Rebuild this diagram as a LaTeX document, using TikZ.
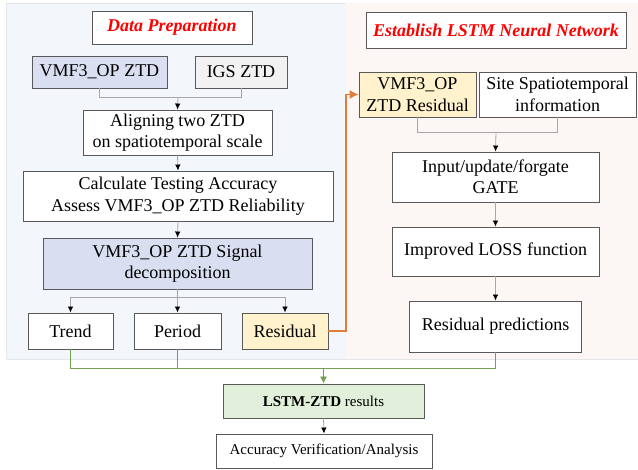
\documentclass[tikz,border=0pt]{standalone}
\usepackage{fontspec}
\setmainfont{Liberation Serif}
\usetikzlibrary{arrows.meta}
\definecolor{boxline}{HTML}{595959}
\definecolor{conn}{HTML}{A6A6A6}
\definecolor{leftbg}{HTML}{F3F6FA}
\definecolor{rightbg}{HTML}{FCF7F4}
\definecolor{panelline}{HTML}{E4E6EA}
\definecolor{vmffill}{HTML}{D9DFF1}
\definecolor{igsfill}{HTML}{F2F2F2}
\definecolor{resfill}{HTML}{FFF2CC}
\definecolor{lstmfill}{HTML}{E2EFDA}
\definecolor{orangeln}{HTML}{E07B39}
\definecolor{greenln}{HTML}{70A050}
\definecolor{titlered}{HTML}{FF0000}
\tikzset{
  box/.style={draw=boxline, line width=0.9pt, fill=white, align=center, inner sep=0pt,
    font=\fontsize{18}{21.5}\selectfont, text=black},
  smallbox/.style={box, font=\fontsize{15}{18}\selectfont},
  titlebox/.style={box, font=\fontsize{18}{21}\selectfont\bfseries\itshape, text=titlered},
  conline/.style={draw=conn, line width=0.8pt},
  tip/.style={-{Latex[length=6pt,width=5.5pt,color=black]}},
}
\begin{document}
\begin{tikzpicture}[x=1pt,y=-1pt]
\useasboundingbox (0,0) rectangle (638,470);
\fill[white] (0,0) rectangle (638,470);
% panels
\draw[fill=leftbg, draw=panelline, line width=0.8pt] (6,3) rectangle (346,359);
\fill[rightbg] (346,3) rectangle (638,359);
\draw[panelline, line width=0.8pt] (346,359) -- (638,359);

% left panel nodes
\node[titlebox, minimum width=160pt, minimum height=33pt] (dp) at (172,27.5) {Data Preparation};
\node[box, fill=vmffill, minimum width=135pt, minimum height=32pt] (vmf) at (99.5,72) {VMF3\_OP ZTD};
\node[box, fill=igsfill, minimum width=92pt, minimum height=32pt] (igs) at (241,72) {IGS ZTD};
\node[box, minimum width=189pt, minimum height=45pt] (align) at (177.5,132.5) {Aligning two ZTD\\on spatiotemporal scale};
\node[box, minimum width=310pt, minimum height=50pt] (calc) at (178,196) {Calculate Testing Accuracy\\Assess VMF3\_OP ZTD Reliability};
\node[box, fill=vmffill, minimum width=269pt, minimum height=51pt] (sig) at (177.5,263.5) {VMF3\_OP ZTD Signal\\decomposition};
\node[box, minimum width=85pt, minimum height=36pt] (trend) at (70.5,331) {Trend};
\node[box, minimum width=87pt, minimum height=36pt] (period) at (177.5,331) {Period};
\node[box, fill=resfill, minimum width=86pt, minimum height=36pt] (resid) at (285,331) {Residual};

% right panel nodes
\node[titlebox, minimum width=260pt, minimum height=36pt] (est) at (496,30) {Establish LSTM Neural Network};
\node[box, fill=resfill, minimum width=117pt, minimum height=45pt] (vres) at (417.5,94.5) {VMF3\_OP\\ZTD Residual};
\node[box, minimum width=157pt, minimum height=45pt] (site) at (557.5,94.5) {Site Spatiotemporal\\information};
\node[box, minimum width=207pt, minimum height=50pt] (gate) at (495.5,177) {Input/update/forgate\\GATE};
\node[box, minimum width=207pt, minimum height=49pt] (loss) at (495.5,251.5) {Improved LOSS function};
\node[box, minimum width=172pt, minimum height=51pt] (rpred) at (495.5,326.5) {Residual predictions};

% bottom nodes
\node[smallbox, fill=lstmfill, minimum width=201pt, minimum height=34pt] (lres) at (323.5,401) {\textbf{LSTM-ZTD} results};
\node[smallbox, minimum width=216pt, minimum height=34pt] (acc) at (324,451) {Accuracy Verification/Analysis};

% coordinates
\coordinate (j1) at (178,97);
\coordinate (j2) at (177.5,297);
\coordinate (j3) at (496,132);
\coordinate (g1) at (323.5,368);

% left connectors
\draw[conline] (vmf.south) -- (vmf.south |- j1) -- (igs.south |- j1) -- (igs.south);
\draw[conline, tip] (j1) -- (align.north);
\draw[conline, tip] (align.south) -- (calc.north);
\draw[conline, tip] (calc.south) -- (sig.north);
\draw[conline] (sig.south) -- (j2);
\draw[conline] (trend.north |- j2) -- (resid.north |- j2);
\draw[conline, tip] (trend.north |- j2) -- (trend.north);
\draw[conline, tip] (j2) -- (period.north);
\draw[conline, tip] (resid.north |- j2) -- (resid.north);

% orange connector
\draw[orangeln, line width=1.3pt, -{Latex[length=9pt,width=9pt]}] (resid.east) -- (346,331) -- (346,94.5) -- (vres.west);

% right connectors
\draw[conline] (vres.south) -- (vres.south |- j3) -- (site.south |- j3) -- (site.south);
\draw[conline, tip] (j3) -- (gate.north);
\draw[conline, tip] (gate.south) -- (loss.north);
\draw[conline, tip] (loss.south) -- (rpred.north);

% green connectors
\draw[greenln, line width=0.9pt] (trend.south) -- (trend.south |- g1) -- (rpred.south |- g1) -- (rpred.south);
\draw[greenln, line width=0.9pt] (period.south) -- (period.south |- g1);
\draw[greenln, line width=0.9pt, -{Latex[length=7pt,width=7pt]}] (g1) -- (lres.north);

% bottom
\draw[conline, tip] (lres.south) -- (acc.north);
\end{tikzpicture}
\end{document}
